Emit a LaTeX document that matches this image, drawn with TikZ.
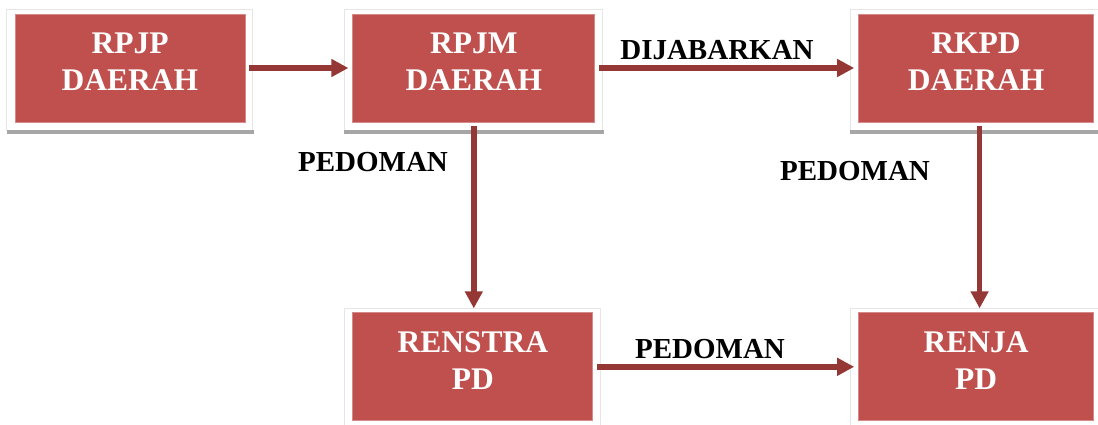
\documentclass[tikz,border=0pt]{standalone}
\usepackage{fontspec}
\setmainfont{Liberation Serif}
\usetikzlibrary{arrows.meta, positioning, backgrounds, calc}
\definecolor{PlanFill}{HTML}{C0504D}
\definecolor{PlanEdge}{HTML}{D48A88}
\definecolor{LinkInk}{HTML}{953735}
\definecolor{PanelEdge}{HTML}{E6E6E6}
\definecolor{ShadowBar}{HTML}{A6A6A6}

\begin{document}
\begin{tikzpicture}[
    x=1pt, y=1pt,
    plan/.style={
      rectangle,
      fill=PlanFill,
      draw=PlanEdge,
      line width=0.8pt,
      text=white,
      font=\bfseries\fontsize{31.5}{37}\selectfont,
      align=center,
      minimum height=108pt,
      inner sep=0pt,
      text depth=12pt,
    },
    link/.style={
      draw=LinkInk,
      line width=5.5pt,
      -{Triangle[length=17pt, width=17pt]},
      shorten <=4pt,
      shorten >=4pt,
    },
    tag/.style={
      font=\bfseries\fontsize{29}{34}\selectfont,
      inner sep=0pt,
    },
  ]
    \useasboundingbox (0,0) rectangle (1098,-424);

    % ---- top row ----
    \node[plan, minimum width=230pt] (rpjp) at (130,-68) {RPJP\\DAERAH};
    \node[plan, minimum width=242pt, right=107pt of rpjp] (rpjm) {RPJM\\DAERAH};
    \node[plan, minimum width=235pt, right=263pt of rpjm] (rkpd) {RKPD\\DAERAH};

    % ---- bottom row ----
    \node[plan, minimum width=240pt,
      below=190pt of rpjm.south west, anchor=north west] (renstra) {RENSTRA\\PD};
    \node[plan, minimum width=235pt, below=190pt of rkpd] (renja) {RENJA\\PD};

    % ---- links ----
    \draw[link] (rpjp) -- (rpjm);
    \draw[link] (rpjm) -- (rkpd);
    \draw[link] (rpjm.south) -- (rpjm.south |- renstra.north);
    \draw[link] ([xshift=3.5pt]rkpd.south) -- ([xshift=3.5pt]renja.north);
    \draw[link] (renstra.east |- renja) -- (renja);

    \node[tag] (dijabarkan) at (717,-50) {DIJABARKAN};
    \node[tag] (pedoman1) at (373,-162) {PEDOMAN};
    \node[tag] (pedoman2) at (855,-171) {PEDOMAN};
    \node[tag] (pedoman3) at (710,-349) {PEDOMAN};

    \begin{scope}[on background layer]
      \foreach \b in {rpjp, rpjm, rkpd, renstra, renja} {
        \filldraw[fill=white, draw=PanelEdge, line width=0.6pt]
          ([xshift=-8pt,yshift=4pt]\b.north west)
          rectangle
          ([xshift=7pt,yshift=-8pt]\b.south east);
        \fill[ShadowBar]
          ([xshift=-8pt,yshift=-8pt]\b.south west)
          rectangle
          ([xshift=9pt,yshift=-12pt]\b.south east);
      }
    \end{scope}
  \end{tikzpicture}
\end{document}
